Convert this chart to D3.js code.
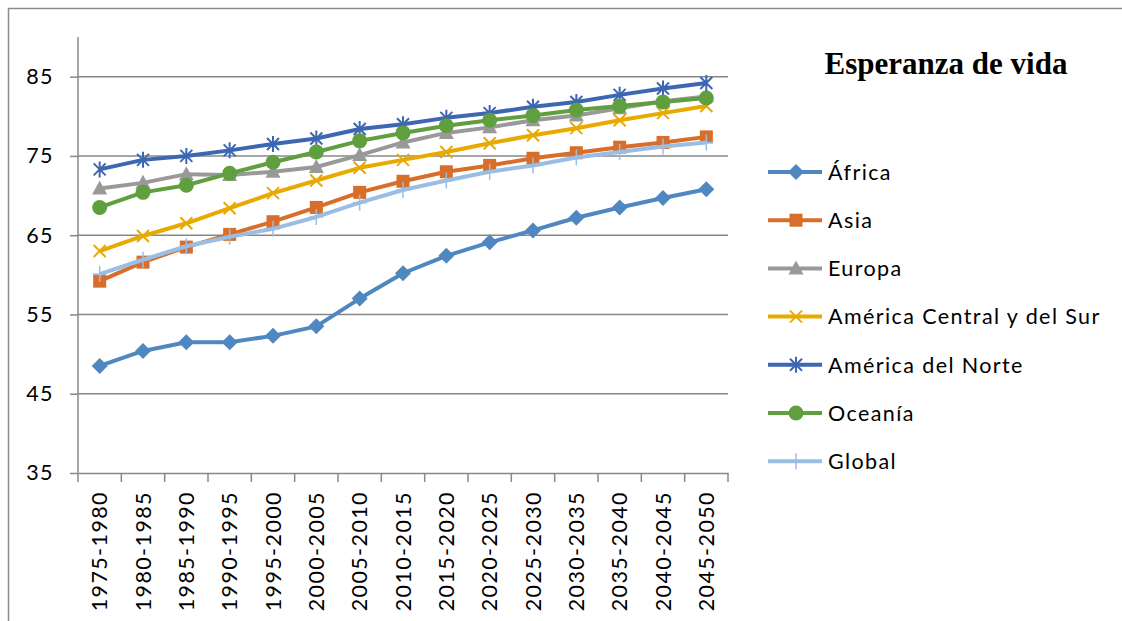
<!DOCTYPE html>
<html>
<head>
<meta charset="utf-8">
<script src="https://cdn.jsdelivr.net/npm/d3@7"></script>
<style>
  body { margin: 0; background: #fff; }
  svg { display: block; }
</style>
</head>
<body>
<svg></svg>
<script>
const periods = ["1975-1980", "1980-1985", "1985-1990", "1990-1995", "1995-2000", "2000-2005", "2005-2010",
  "2010-2015", "2015-2020", "2020-2025", "2025-2030", "2030-2035", "2035-2040", "2040-2045", "2045-2050"];

const africa = [48.5, 50.4, 51.5, 51.5, 52.3, 53.5, 57.0, 60.2, 62.4, 64.1, 65.6, 67.2, 68.5, 69.7, 70.8];
const asia = [59.2, 61.6, 63.5, 65.1, 66.7, 68.5, 70.4, 71.8, 73.0, 73.8, 74.7, 75.4, 76.1, 76.7, 77.4];
const europa = [70.9, 71.6, 72.7, 72.6, 73.0, 73.6, 75.1, 76.7, 77.9, 78.6, 79.5, 80.1, 81.0, 81.9, 82.5];
const americaSur = [63.0, 64.9, 66.5, 68.4, 70.3, 71.9, 73.5, 74.5, 75.5, 76.6, 77.6, 78.5, 79.5, 80.4, 81.3];
const americaNorte = [73.3, 74.5, 75.0, 75.7, 76.5, 77.2, 78.4, 79.0, 79.8, 80.4, 81.2, 81.8, 82.7, 83.5, 84.2];
const oceania = [68.5, 70.4, 71.3, 72.8, 74.2, 75.5, 76.9, 77.9, 78.8, 79.5, 80.1, 80.8, 81.3, 81.8, 82.3];
const global = [60.1, 61.9, 63.6, 64.8, 65.8, 67.3, 69.1, 70.7, 71.9, 73.0, 73.8, 74.8, 75.5, 76.2, 76.7];

const yTicks = [35, 45, 55, 65, 75, 85];

const series = [
  { name: "África", values: africa, color: "#4f87c1", marker: "diamond" },
  { name: "Asia", values: asia, color: "#d86e2a", marker: "square" },
  { name: "Europa", values: europa, color: "#999999", marker: "triangle" },
  { name: "América Central y del Sur", values: americaSur, color: "#e8aa00", marker: "x" },
  { name: "América del Norte", values: americaNorte, color: "#3d66b3", marker: "star" },
  { name: "Oceanía", values: oceania, color: "#609f3e", marker: "circle" },
  { name: "Global", values: global, color: "#9abde3", marker: "plus" }
];

const width = 1122, height = 621;
const margin = { top: 37, left: 78, right: 394, bottom: 148 };
const font = "Lato, 'Open Sans', sans-serif";
const spacing = "1.4px";

const svg = d3.select("svg")
  .attr("width", width)
  .attr("height", height);

// outer frame (only top and left edges visible)
svg.append("line").attr("x1", 8).attr("x2", width).attr("y1", 8.5).attr("y2", 8.5)
  .attr("stroke", "#8c8c8c").attr("stroke-width", 1.5);
svg.append("line").attr("x1", 8.5).attr("x2", 8.5).attr("y1", 8).attr("y2", height)
  .attr("stroke", "#8c8c8c").attr("stroke-width", 1.5);

const x = d3.scaleBand()
  .domain(periods)
  .range([margin.left, width - margin.right]);

const y = d3.scaleLinear()
  .domain([35, 90])
  .range([height - margin.bottom, margin.top]);

// grid
svg.append("g")
  .selectAll("line")
  .data(yTicks.slice(1))
  .join("line")
  .attr("x1", margin.left)
  .attr("x2", width - margin.right)
  .attr("y1", d => y(d))
  .attr("y2", d => y(d))
  .attr("stroke", "#888")
  .attr("stroke-width", 1.5);

// y axis
const yAxis = svg.append("g")
  .attr("transform", `translate(${margin.left},0)`)
  .call(d3.axisLeft(y).tickValues(yTicks).tickSize(8).tickPadding(16));
yAxis.select(".domain").attr("stroke", "#888").attr("stroke-width", 1.5)
  .attr("d", `M0,${y(90)}V${y(35)}`);
yAxis.selectAll(".tick line").attr("stroke", "#888").attr("stroke-width", 1.5);
yAxis.selectAll(".tick text").attr("font-family", font).attr("font-size", 21.5)
  .attr("letter-spacing", spacing).attr("fill", "#000");

// x axis
const xAxis = svg.append("g")
  .attr("transform", `translate(0,${height - margin.bottom})`)
  .call(d3.axisBottom(x).tickSize(0));
xAxis.select(".domain").attr("stroke", "#888").attr("stroke-width", 1.5);
xAxis.selectAll(".tick text")
  .attr("font-family", font).attr("font-size", 21.5).attr("fill", "#000")
  .attr("letter-spacing", spacing)
  .attr("transform", "rotate(-90)")
  .attr("text-anchor", "end")
  .attr("x", -18)
  .attr("y", 0)
  .attr("dy", "0.36em");
// tick marks between categories
svg.append("g")
  .selectAll("line")
  .data(periods.concat(["end"]))
  .join("line")
  .attr("x1", (d, i) => margin.left + i * x.step())
  .attr("x2", (d, i) => margin.left + i * x.step())
  .attr("y1", height - margin.bottom)
  .attr("y2", height - margin.bottom + 9)
  .attr("stroke", "#888")
  .attr("stroke-width", 1.5);

const cx = d => x(d) + x.bandwidth() / 2;

function drawMarker(g, type, color) {
  if (type === "diamond") {
    g.append("path").attr("d", "M0,-8L8,0L0,8L-8,0Z").attr("fill", color);
  } else if (type === "square") {
    g.append("rect").attr("x", -6.5).attr("y", -6.5).attr("width", 13).attr("height", 13).attr("fill", color);
  } else if (type === "triangle") {
    g.append("path").attr("d", "M0,-8L7.5,6L-7.5,6Z").attr("fill", color);
  } else if (type === "circle") {
    g.append("circle").attr("r", 7.5).attr("fill", color);
  } else if (type === "x") {
    g.append("path").attr("d", "M-6,-6L6,6M-6,6L6,-6").attr("stroke", color).attr("stroke-width", 2);
  } else if (type === "star") {
    g.append("path").attr("d", "M-6,-6L6,6M-6,6L6,-6M0,-8V8").attr("stroke", color).attr("stroke-width", 2);
  } else if (type === "plus") {
    g.append("path").attr("d", "M0,-8V8M-7,0H7").attr("stroke", color).attr("stroke-width", 1.5);
  }
}

const line = d3.line()
  .x((d, i) => cx(periods[i]))
  .y(d => y(d));

series.forEach(s => {
  const g = svg.append("g");
  g.append("path")
    .datum(s.values)
    .attr("d", line)
    .attr("fill", "none")
    .attr("stroke", s.color)
    .attr("stroke-width", 4)
    .attr("stroke-linejoin", "round");
  s.values.forEach((v, i) => {
    const m = g.append("g").attr("transform", `translate(${cx(periods[i])},${y(v)})`);
    drawMarker(m, s.marker, s.color);
  });
});

// title
svg.append("text")
  .attr("x", 946)
  .attr("y", 74)
  .attr("text-anchor", "middle")
  .attr("font-family", "'Liberation Serif', 'Times New Roman', serif")
  .attr("font-weight", "bold")
  .attr("font-size", 31)
  .attr("fill", "#000")
  .text("Esperanza de vida");

// legend
const legend = svg.append("g");
series.forEach((s, i) => {
  const ly = 172 + i * 48.2;
  const row = legend.append("g").attr("transform", `translate(0,${ly})`);
  row.append("line").attr("x1", 768).attr("x2", 822).attr("y1", 0).attr("y2", 0)
    .attr("stroke", s.color).attr("stroke-width", 4);
  const m = row.append("g").attr("transform", "translate(796,0)");
  drawMarker(m, s.marker, s.color);
  row.append("text")
    .attr("x", 828)
    .attr("y", 0)
    .attr("dy", "0.36em")
    .attr("font-family", font)
    .attr("font-size", 21.5)
    .attr("letter-spacing", spacing)
    .attr("fill", "#000")
    .text(s.name);
});
</script>
</body>
</html>
